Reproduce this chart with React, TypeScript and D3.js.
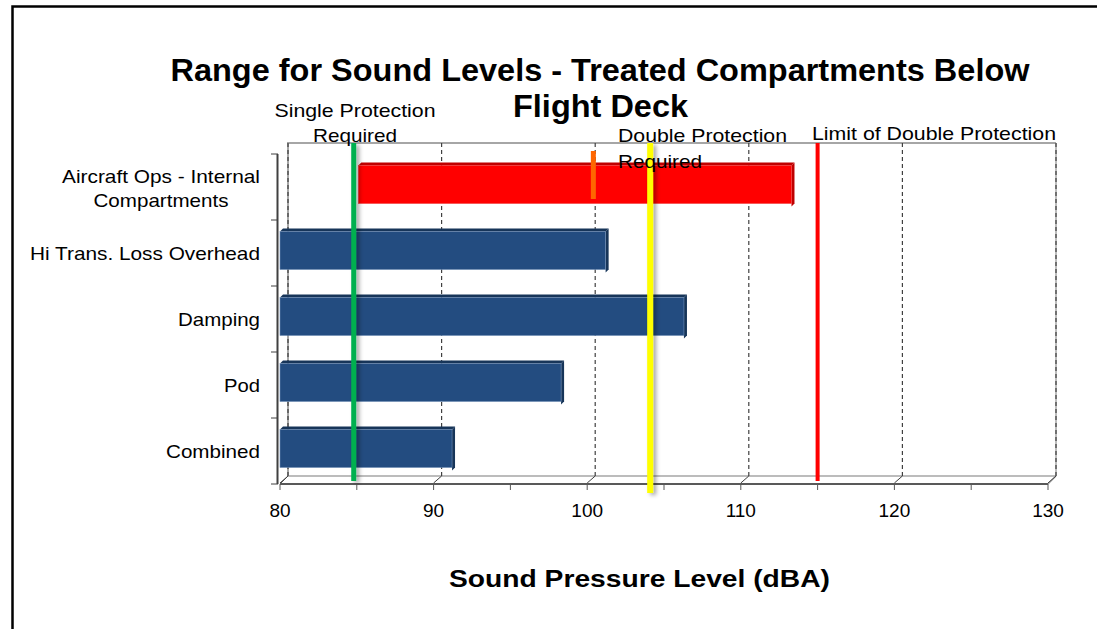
import React from "react";
import * as d3 from "d3";

// Sound level ranges per treatment (dBA)
const categories = [
  "Aircraft Ops - Internal Compartments",
  "Hi Trans. Loss Overhead",
  "Damping",
  "Pod",
  "Combined",
];
const categoryLines = [
  ["Aircraft Ops - Internal", "Compartments"],
  ["Hi Trans. Loss Overhead"],
  ["Damping"],
  ["Pod"],
  ["Combined"],
];
const rangeLow = [85.1, 80, 80, 80, 80];
const rangeHigh = [113.3, 101.2, 106.3, 98.3, 91.2];
const barColors = ["#FF0000", "#234C80", "#234C80", "#234C80", "#234C80"];
const barTopColors = ["#C00000", "#173559", "#173559", "#173559", "#173559"];

// Protection thresholds (dBA)
const singleProtection = 84.8;
const doubleProtection = 104.1;
const doubleLimit = 115;
const aircraftOpsMarker = 100.4;

const xTicks = [80, 90, 100, 110, 120, 130];
const xMinorTicks = [80, 85, 90, 95, 100, 105, 110, 115, 120, 125, 130];

const FONT = "'Liberation Sans', Arial, sans-serif";

// text with a fixed rendered width
function Label(props: {
  x: number;
  y: number;
  w: number;
  size: number;
  anchor?: "start" | "middle" | "end";
  bold?: boolean;
  children: string;
}) {
  const { x, y, w, size, anchor = "start", bold, children } = props;
  return (
    <text
      x={x}
      y={y}
      textAnchor={anchor}
      fontSize={size}
      fontWeight={bold ? "bold" : "normal"}
      textLength={w}
      lengthAdjust="spacingAndGlyphs"
      fill="#000"
    >
      {children}
    </text>
  );
}

const catWidths = [[198, 135], [230], [82], [36], [94]];

export default function App() {
  const x = d3.scaleLinear().domain([80, 130]).range([280, 1048]);
  const y = d3.scaleBand<string>().domain(categories).range([154, 484]);
  const band = y.bandwidth();
  const barH = 41;
  const depth = 8; // 3D wall offset
  const barDepth = 3;
  const plotTop = 143;
  const backBottom = 484 - depth;
  const axisY = 484;

  const vLine = (v: number, y0: number, y1: number, w: number, color: string, shadow: boolean, key: string) => (
    <rect
      key={key}
      x={x(v) - w / 2}
      y={y0}
      width={w}
      height={y1 - y0}
      fill={color}
      filter={shadow ? "url(#lineShadow)" : undefined}
    />
  );

  return (
    <svg
      width={1097}
      height={629}
      style={{ position: "absolute", left: 0, top: 0, background: "#fff" }}
      fontFamily={FONT}
    >
      <defs>
        <filter id="lineShadow" filterUnits="userSpaceOnUse" x={0} y={0} width={1097} height={629}>
          <feDropShadow dx="3" dy="2" stdDeviation="2" floodColor="#000" floodOpacity="0.35" />
        </filter>
      </defs>

      {/* outer frame */}
      <rect x={12.5} y={6.5} width={1200} height={700} fill="none" stroke="#000" strokeWidth={2.5} />

      {/* title */}
      <Label x={600} y={81} w={859} size={32} anchor="middle" bold>
        Range for Sound Levels - Treated Compartments Below
      </Label>
      <Label x={600.5} y={117} w={175} size={32} anchor="middle" bold>
        Flight Deck
      </Label>

      {/* back wall outline */}
      <path
        d={`M${x(80) + depth},${backBottom} V${plotTop} H${x(130) + depth}`}
        fill="none"
        stroke="#A6A6A6"
        strokeWidth={2}
      />
      {/* floor */}
      <line x1={x(80) + depth} x2={x(130) + depth} y1={backBottom} y2={backBottom} stroke="#A6A6A6" strokeWidth={1.5} />
      <line x1={x(130)} x2={x(130) + depth} y1={axisY} y2={backBottom} stroke="#A6A6A6" strokeWidth={1.5} />
      <line x1={x(130) + depth} x2={x(130) + depth} y1={plotTop} y2={backBottom} stroke="#A6A6A6" strokeWidth={1.5} />
      <line x1={x(80)} x2={x(80) + depth} y1={axisY} y2={backBottom} stroke="#555" strokeWidth={1} />

      {/* gridlines on the back wall */}
      {xTicks.map((t) => (
        <g key={`g${t}`}>
          <line
            x1={x(t) + depth}
            x2={x(t) + depth}
            y1={plotTop}
            y2={backBottom}
            stroke="#404040"
            strokeWidth={1.2}
            strokeDasharray="4,3"
          />
          <line x1={x(t)} x2={x(t) + depth} y1={axisY - 1} y2={backBottom} stroke="#404040" strokeWidth={1} />
        </g>
      ))}

      {/* bars */}
      {categories.map((c, i) => {
        const x0 = x(rangeLow[i]);
        const x1 = x(rangeHigh[i]);
        const by = (y(c) as number) + (band - barH) / 2 - 4 + barDepth;
        return (
          <g key={c}>
            <polygon
              points={`${x0},${by} ${x0 + barDepth},${by - barDepth} ${x1 + barDepth},${by - barDepth} ${x1},${by}`}
              fill={barTopColors[i]}
            />
            <polygon
              points={`${x1},${by} ${x1 + barDepth},${by - barDepth} ${x1 + barDepth},${by + barH - barDepth} ${x1},${by + barH}`}
              fill={barTopColors[i]}
            />
            <rect
              x={x0}
              y={by}
              width={x1 - x0}
              height={barH - barDepth}
              fill={barColors[i]}
              stroke={i === 0 ? "#F04040" : "#6F8DB5"}
              strokeWidth={0.6}
            />
          </g>
        );
      })}

      {/* front axis */}
      <line x1={x(80)} x2={x(130)} y1={axisY} y2={axisY} stroke="#595959" strokeWidth={2} />
      {xMinorTicks.map((t) => (
        <line key={`t${t}`} x1={x(t)} x2={x(t)} y1={axisY} y2={axisY + 6} stroke="#595959" strokeWidth={1} />
      ))}
      {xTicks.map((t) => (
        <text key={`l${t}`} x={x(t)} y={517} textAnchor="middle" fontSize={19} fill="#000">
          {t}
        </text>
      ))}

      {/* category axis */}
      <line x1={277.5} x2={277.5} y1={154} y2={axisY} stroke="#404040" strokeWidth={2} />
      {[...categories.map((c) => y(c) as number), 484].map((v, i) => (
        <line key={`yt${i}`} x1={271} x2={278} y1={v} y2={v} stroke="#404040" strokeWidth={1} />
      ))}
      {categories.map((c, i) => {
        const cy = (y(c) as number) + band / 2;
        const lines = categoryLines[i];
        if (lines.length === 1) {
          return (
            <Label key={`cl${c}`} x={260} y={cy + 6.5} w={catWidths[i][0]} size={18.5} anchor="end">
              {lines[0]}
            </Label>
          );
        }
        return (
          <g key={`cl${c}`}>
            {lines.map((l, k) => (
              <Label key={k} x={161} y={cy - 4.5 + k * 24} w={catWidths[i][k]} size={18.5} anchor="middle">
                {l}
              </Label>
            ))}
          </g>
        );
      })}

      {/* threshold lines */}
      {vLine(aircraftOpsMarker, 151, 199, 5, "#FF6600", false, "marker")}
      {vLine(singleProtection, plotTop, 481, 5, "#00B050", true, "single")}
      {vLine(doubleProtection, plotTop, 493, 6, "#FFFF00", true, "double")}
      {vLine(doubleLimit, plotTop, 481, 4, "#FF0000", false, "limit")}

      {/* threshold labels */}
      <Label x={355} y={117} w={161} size={18.5} anchor="middle">
        Single Protection
      </Label>
      <Label x={355} y={142} w={84} size={18.5} anchor="middle">
        Required
      </Label>
      <Label x={618} y={142} w={169} size={18.5}>
        Double Protection
      </Label>
      <Label x={618} y={168} w={84} size={18.5}>
        Required
      </Label>
      <Label x={812} y={140} w={244} size={18.5}>
        Limit of Double Protection
      </Label>

      {/* axis title */}
      <Label x={639.5} y={587} w={381} size={23} anchor="middle" bold>
        Sound Pressure Level (dBA)
      </Label>
    </svg>
  );
}
